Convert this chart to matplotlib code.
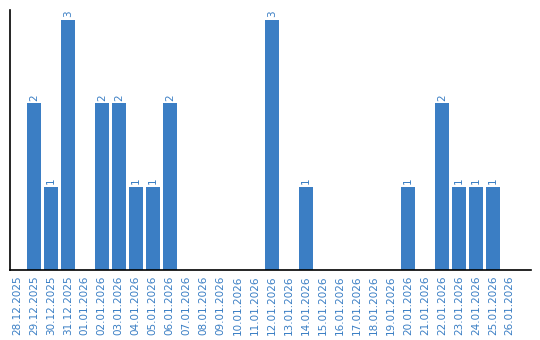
import matplotlib
matplotlib.use("Agg")
import matplotlib.pyplot as plt

dates = [
    "28.12.2025", "29.12.2025", "30.12.2025", "31.12.2025",
    "01.01.2026", "02.01.2026", "03.01.2026", "04.01.2026", "05.01.2026",
    "06.01.2026", "07.01.2026", "08.01.2026", "09.01.2026", "10.01.2026",
    "11.01.2026", "12.01.2026", "13.01.2026", "14.01.2026", "15.01.2026",
    "16.01.2026", "17.01.2026", "18.01.2026", "19.01.2026", "20.01.2026",
    "21.01.2026", "22.01.2026", "23.01.2026", "24.01.2026", "25.01.2026",
    "26.01.2026",
]
counts = [0, 2, 1, 3, 0, 2, 2, 1, 1, 2, 0, 0, 0, 0, 0, 3, 0, 1, 0, 0,
          0, 0, 0, 1, 0, 2, 1, 1, 1, 0]

bar_color = "#3b7ec4"
text_color = "#3a7ec4"

fig = plt.figure(figsize=(5.4, 3.4), dpi=100)
ax = fig.add_axes([0.019, 0.206, 0.964, 0.765])

x = list(range(len(dates)))
ax.bar(x, counts, width=0.82, color=bar_color)

for xi, c in zip(x, counts):
    if c > 0:
        ax.text(xi, c + 0.03, str(c), rotation=90, ha="center", va="bottom",
                fontsize=7.5, color=text_color)

ax.set_xlim(-0.39, 30.24)
ax.set_ylim(0, 3.12)
ax.set_xticks(x)
ax.set_xticklabels(dates, rotation=90, fontsize=7.5, color=text_color)
ax.tick_params(axis="x", length=0, pad=4)
ax.set_yticks([])

for side in ("top", "right"):
    ax.spines[side].set_visible(False)
for side in ("left", "bottom"):
    ax.spines[side].set_color("black")
    ax.spines[side].set_linewidth(1.2)

fig.savefig("out.png", dpi=100)
